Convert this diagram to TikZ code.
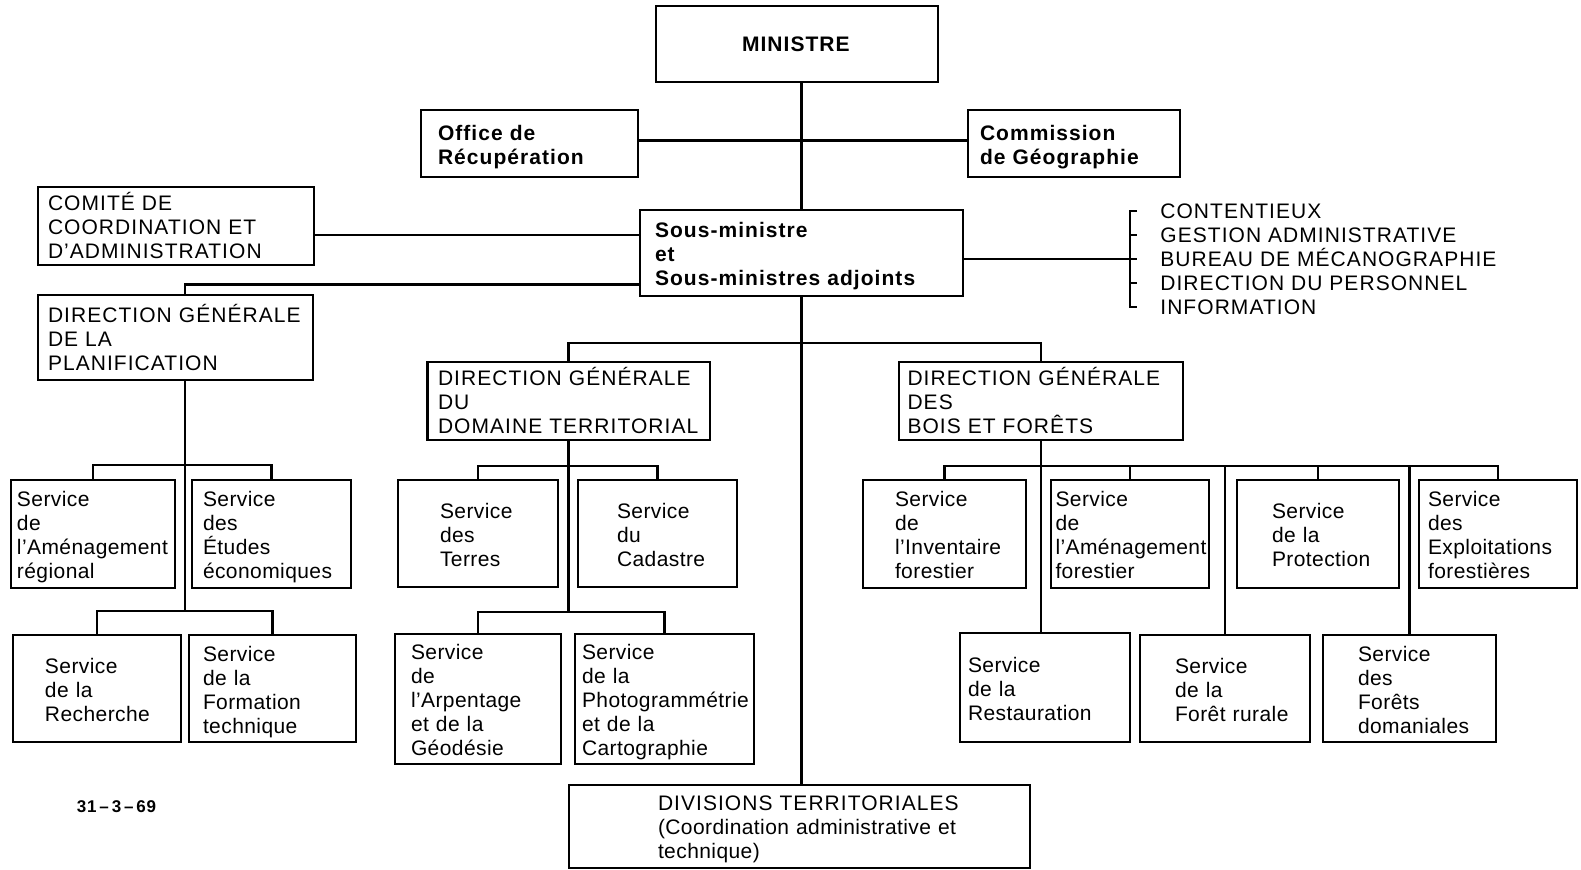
\documentclass[tikz,border=0pt]{standalone}
\usepackage{fontspec}
\setmainfont{Liberation Sans}
\newfontfamily\regfont{Liberation Sans}[LetterSpace=2]
\newfontfamily\capfont{Liberation Sans}[LetterSpace=5]
\newfontfamily\boldfont{Liberation Sans}[LetterSpace=5]
\hyphenpenalty=10000
\exhyphenpenalty=10000
\tikzset{
    boxbase/.style={draw, rectangle, inner ysep=0pt, align=left},
    unit/.style={boxbase, font=\regfont\fontsize{10.5}{12}\selectfont,
        execute at end node={\par\kern\dimexpr-\prevdepth-1pt\relax}},
    capsunit/.style={boxbase, font=\capfont\fontsize{10.5}{12}\selectfont},
    headunit/.style={unit, font=\boldfont\bfseries\fontsize{10.5}{12}\selectfont},
    dims/.style n args={4}{minimum width=#1, minimum height=#2, inner xsep=#3, text width=#4},
    item/.style={anchor=west, inner sep=0pt, text height=7.5pt, text depth=0pt,
        font=\capfont\fontsize{10.5}{12}\selectfont},
    datenote/.style={anchor=west, inner sep=0pt,
        font=\boldfont\bfseries\fontsize{8.5}{10}\selectfont}}

\begin{document}
\begin{tikzpicture}
[x=0.5pt, y=-0.5pt, line width=1.4pt]
\useasboundingbox (0,0) rectangle (1581,870);

\node[headunit, dims={141pt}{38pt}{43pt}{55pt}]        (minister)   at (797,44)      {MINISTRE};
\node[headunit, dims={108.5pt}{33.5pt}{8.5pt}{91.5pt}] (office)     at (529.5,143.5) {Office~de\\Récupération};
\node[headunit, dims={106pt}{33.5pt}{6pt}{94pt}]       (commission) at (1074,143.5)  {Commission\\de~Géographie};
\node[capsunit, dims={138pt}{39pt}{5pt}{128pt}]        (comite)     at (176,226)     {COMITÉ~DE\\COORDINATION~ET\\D’ADMINISTRATION};
\node[headunit, dims={161.5pt}{43pt}{7.5pt}{146.5pt}]  (sousmin)    at (801.5,253)   {Sous-ministre\\et\\Sous-ministres~adjoints};

\node[item] (contentieux) at (1159,211) {CONTENTIEUX};
\node[item] (gestion)     at (1159,235) {GESTION~ADMINISTRATIVE};
\node[item] (bureau)      at (1159,259) {BUREAU~DE~MÉCANOGRAPHIE};
\node[item] (personnel)   at (1159,283) {DIRECTION~DU~PERSONNEL};
\node[item] (information) at (1159,307) {INFORMATION};

\node[capsunit, dims={137.5pt}{42.5pt}{5pt}{127.5pt}]    (dgplan) at (175.5,337.5) {DIRECTION~GÉNÉRALE\\DE~LA\\PLANIFICATION};
\node[capsunit, dims={141.25pt}{39pt}{5.25pt}{130.75pt}] (dgdom)  at (568.75,401)  {DIRECTION~GÉNÉRALE\\DU\\DOMAINE~TERRITORIAL};
\node[capsunit, dims={142pt}{39pt}{4.25pt}{133.5pt}]     (dgbois) at (1041,401)    {DIRECTION~GÉNÉRALE\\DES\\BOIS~ET~FORÊTS};

\node[unit, dims={82pt}{54pt}{3pt}{76pt}]         (amreg)      at (93,534)      {Service\\de\\l’Aménagement\\régional};
\node[unit, dims={79.5pt}{54pt}{5.5pt}{68.5pt}]   (etudes)     at (271.5,534)   {Service\\des\\Études\\économiques};
\node[unit, dims={84pt}{53.5pt}{16pt}{52pt}]      (recherche)  at (97,688.5)    {Service\\de~la\\Recherche};
\node[unit, dims={83.5pt}{53.5pt}{7pt}{69.5pt}]   (formation)  at (272.5,688.5) {Service\\de~la\\Formation\\technique};
\node[unit, dims={80pt}{53.5pt}{21pt}{38pt}]      (terres)     at (478,533.5)   {Service\\des\\Terres};
\node[unit, dims={79.5pt}{53.5pt}{19.5pt}{40.5pt}] (cadastre)  at (657.5,533.5) {Service\\du\\Cadastre};
\node[unit, dims={83pt}{65pt}{8pt}{67pt}]         (arpentage)  at (478,699)     {Service\\de\\l’Arpentage\\et~de~la\\Géodésie};
\node[unit, dims={89.5pt}{65pt}{3.5pt}{82.5pt}]   (photo)      at (664.5,699)   {Service\\de~la\\Photogrammétrie\\et~de~la\\Cartographie};
\node[unit, dims={81.5pt}{54pt}{16pt}{49.5pt}]    (inventaire) at (944.5,534)   {Service\\de\\l’Inventaire\\forestier};
\node[unit, dims={79pt}{54pt}{2.25pt}{74.5pt}]    (amfor)      at (1130,534)    {Service\\de\\l’Aménagement\\forestier};
\node[unit, dims={81pt}{54pt}{17.5pt}{46pt}]      (protection) at (1318,534)    {Service\\de~la\\Protection};
\node[unit, dims={79pt}{54pt}{4.5pt}{70pt}]       (exploit)    at (1498,534)    {Service\\des\\Exploitations\\forestières};
\node[unit, dims={85pt}{54.5pt}{4pt}{77pt}]       (resto)      at (1045,687.5)  {Service\\de~la\\Restauration};
\node[unit, dims={85pt}{53.5pt}{17.5pt}{50pt}]    (rurale)     at (1225,688.5)  {Service\\de~la\\Forêt~rurale};
\node[unit, dims={86.5pt}{53.5pt}{17.5pt}{51.5pt}] (domaniales) at (1409.5,688.5) {Service\\des\\Forêts\\domaniales};

\node[unit, dims={230.5pt}{41.5pt}{44.5pt}{141.5pt}] (divisions) at (799.5,826.5)
    {{\capfont DIVISIONS~TERRITORIALES}\\(Coordination~administrative~et\\technique)};
\node[datenote] (date) at (75.5,807) {31\,–\,3\,–\,69};

\coordinate (cj) at ([yshift=-4.5pt]comite.east);
\coordinate (pj) at ([xshift=4.75pt]dgplan.north);
\coordinate (dj) at (801.5,343);
\coordinate (pa) at (185,465);
\coordinate (pb) at (185,611);
\coordinate (da) at (568.75,466);
\coordinate (db) at (568.75,612);
\coordinate (ba) at (1041,466);

\draw (minister.south -| sousmin.north) -- (sousmin.north);
\draw (sousmin.south) -- (sousmin.south |- divisions.north);
\draw ([yshift=1.5pt]office.east) -- ([yshift=1.5pt]commission.west);
\draw (cj) -- (cj -| sousmin.west);
\draw ([yshift=6.5pt]sousmin.south west) -| (pj);
\draw (sousmin.east |- bureau.west) -- ([xshift=-11pt]bureau.west);
\draw ([xshift=-11pt]contentieux.west) -- ([xshift=-14.5pt]contentieux.west)
    -- ([xshift=-14.5pt]information.west) -- ([xshift=-11pt]information.west);
\foreach \n in {gestion,personnel}
    \draw ([xshift=-14.5pt]\n.west) -- ([xshift=-11pt]\n.west);
\draw (dgdom.north) |- (dj) -| (dgbois.north);

\draw ([xshift=4.75pt]dgplan.south) -- (pb);
\draw (amreg.north) |- (pa) -| (etudes.north);
\draw (recherche.north) |- (pb) -| (formation.north);

\draw (dgdom.south) -- (db);
\draw (terres.north) |- (da) -| (cadastre.north);
\draw (arpentage.north) |- (db) -| (photo.north);

\draw (dgbois.south) -- (dgbois.south |- resto.north);
\draw (inventaire.north) |- (ba) -| (exploit.north);
\foreach \n in {amfor,protection,rurale,domaniales}
    \draw (\n.north) -- (\n.north |- ba);
\end{tikzpicture}
\end{document}
